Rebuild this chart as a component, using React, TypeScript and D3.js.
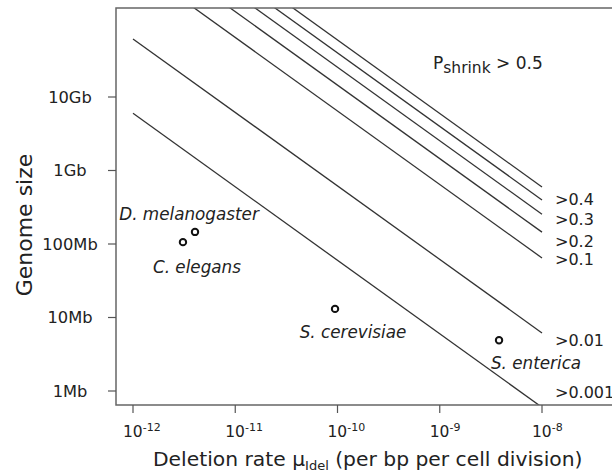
import React, { useRef, useEffect } from 'react'
import { select, scaleLog, line } from 'd3'

// P_shrink thresholds and the matching mu * genome size product of each iso-line
const thresholds = ['0.5', '0.4', '0.3', '0.2', '0.1', '0.01', '0.001']
const products = [5.97, 3.98, 2.54, 1.45, 0.646, 0.0617, 0.006]

const species = ['D. melanogaster', 'C. elegans', 'S. cerevisiae', 'S. enterica']
const speciesMu = [4.04e-12, 3.08e-12, 9.46e-11, 3.8e-9]
const speciesGenome = [1.46e8, 1.06e8, 1.31e7, 4.9e6]

const xTickExp = [-12, -11, -10, -9, -8]
const yTicks = [1e6, 1e7, 1e8, 1e9, 1e10]
const yTickLabels = ['1Mb', '10Mb', '100Mb', '1Gb', '10Gb']

const W = 612
const H = 472
const left = 116
const top = 8
const bottom = 405
const right = 640
const font = 'DejaVu Sans, sans-serif'
const ink = '#222'

// label nudges (px) relative to the point / line end
const speciesOffset = [
	[-6, -12],
	[14, 31],
	[18, 29],
	[37, 29],
]
const thresholdOffset = [0, -1, 5, 9, 1, 7, -15]

function App() {
	const svgRef = useRef(null)

	useEffect(() => {
		const svg = select(svgRef.current)
		svg.selectAll('*').remove()

		const x = scaleLog().domain([1e-12, 1e-8]).range([133, 542])
		const y = scaleLog().domain([1e6, 1e10]).range([391, 97])

		svg
			.append('defs')
			.append('clipPath')
			.attr('id', 'plot-clip')
			.append('rect')
			.attr('x', left)
			.attr('y', top)
			.attr('width', right - left)
			.attr('height', bottom - top)

		// iso-lines
		const path = line()
		const g = svg.append('g').attr('clip-path', 'url(#plot-clip)')
		products.forEach((p) => {
			const pts = [1e-12, 1e-8].map((mu) => [x(mu), y(p / mu)])
			g.append('path')
				.attr('d', path(pts))
				.attr('fill', 'none')
				.attr('stroke', '#333')
				.attr('stroke-width', 1.3)
		})

		// frame
		svg
			.append('path')
			.attr('d', `M${right},${top}H${left}V${bottom}H${right}`)
			.attr('fill', 'none')
			.attr('stroke', '#666')
			.attr('stroke-width', 1.5)

		// y axis
		yTicks.forEach((t, i) => {
			svg
				.append('line')
				.attr('x1', left - 8)
				.attr('x2', left)
				.attr('y1', y(t))
				.attr('y2', y(t))
				.attr('stroke', '#555')
				.attr('stroke-width', 1.2)
			svg
				.append('text')
				.attr('x', 70)
				.attr('y', y(t))
				.attr('dy', '0.35em')
				.attr('text-anchor', 'middle')
				.attr('font-family', font)
				.attr('font-size', 16.3)
				.attr('fill', ink)
				.text(yTickLabels[i])
		})

		// x axis
		xTickExp.forEach((e) => {
			const px = x(Math.pow(10, e))
			svg
				.append('line')
				.attr('x1', px)
				.attr('x2', px)
				.attr('y1', bottom)
				.attr('y2', bottom + 8)
				.attr('stroke', '#555')
				.attr('stroke-width', 1.2)
			const t = svg
				.append('text')
				.attr('x', px - 10)
				.attr('y', 437)
				.attr('font-family', font)
				.attr('font-size', 15.5)
				.attr('fill', ink)
			t.append('tspan').text('10')
			t.append('tspan').attr('dy', -6).attr('font-size', 11).text(String(e))
		})

		// axis titles
		const xt = svg
			.append('text')
			.attr('x', 153)
			.attr('y', 466)
			.attr('font-family', font)
			.attr('font-size', 20.3)
			.attr('fill', ink)
		xt.append('tspan').text('Deletion rate μ')
		xt.append('tspan').attr('dy', 4).attr('font-size', 13).text('Idel')
		xt.append('tspan').attr('dy', -4).text(' (per bp per cell division)')

		svg
			.append('text')
			.attr('transform', 'translate(32,225) rotate(-90)')
			.attr('text-anchor', 'middle')
			.attr('font-family', font)
			.attr('font-size', 22)
			.attr('fill', ink)
			.text('Genome size')

		// threshold labels
		const pl = svg
			.append('text')
			.attr('x', 433)
			.attr('y', 69)
			.attr('font-family', font)
			.attr('font-size', 17)
			.attr('fill', ink)
		pl.append('tspan').text('P')
		pl.append('tspan').attr('dy', 4).attr('font-size', 15.5).text('shrink')
		pl.append('tspan').attr('dy', -4).text(` > ${thresholds[0]}`)

		thresholds.slice(1).forEach((th, i) => {
			const endY = y(products[i + 1] / 1e-8)
			svg
				.append('text')
				.attr('x', 555)
				.attr('y', endY + thresholdOffset[i + 1])
				.attr('dy', '0.35em')
				.attr('font-family', font)
				.attr('font-size', 16)
				.attr('fill', ink)
				.text(`>${th}`)
		})

		// species
		species.forEach((name, i) => {
			const px = x(speciesMu[i])
			const py = y(speciesGenome[i])
			svg
				.append('circle')
				.attr('cx', px)
				.attr('cy', py)
				.attr('r', 3.2)
				.attr('fill', 'none')
				.attr('stroke', '#111')
				.attr('stroke-width', 2)
			svg
				.append('text')
				.attr('x', px + speciesOffset[i][0])
				.attr('y', py + speciesOffset[i][1])
				.attr('text-anchor', 'middle')
				.attr('font-family', font)
				.attr('font-style', 'italic')
				.attr('font-size', 16.8)
				.attr('fill', ink)
				.text(name)
		})
	}, [])

	return (
		<svg
			ref={svgRef}
			width={W}
			height={H}
			style={{ position: 'absolute', left: 0, top: 0, background: '#fff' }}
		/>
	)
}

export default App
